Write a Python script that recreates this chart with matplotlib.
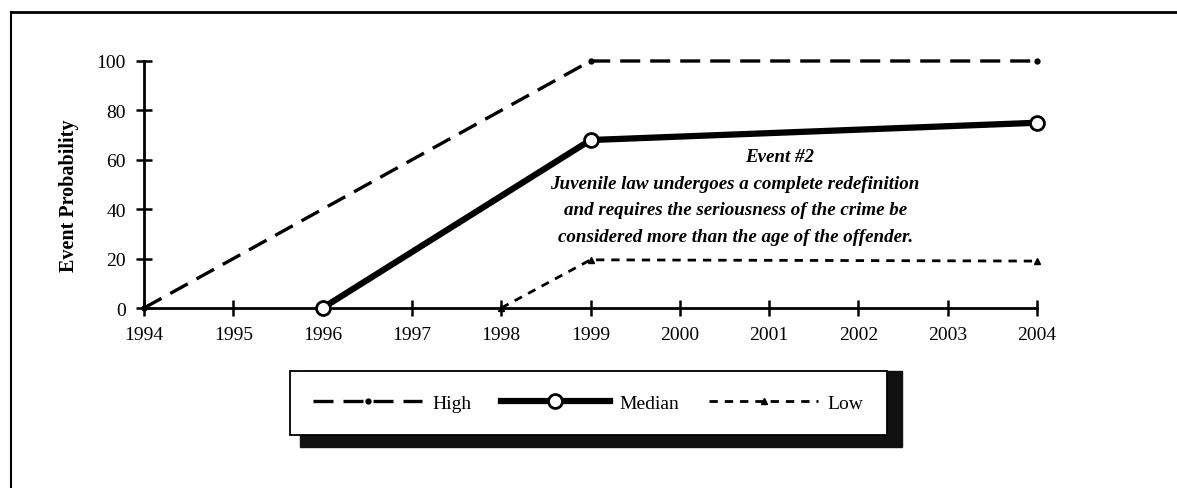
import matplotlib.pyplot as plt
from matplotlib.lines import Line2D
from matplotlib.patches import Rectangle

years = list(range(1994, 2005))

high_years = [1994, 1999, 2004]
high_vals = [0, 100, 100]

median_years = [1996, 1999, 2004]
median_vals = [0, 68, 75]

low_years = [1998, 1999, 2004]
low_vals = [0, 19.5, 19]

y_ticks = [0, 20, 40, 60, 80, 100]

event_title = "Event #2"
event_body = ("Juvenile law undergoes a complete redefinition\n"
              "and requires the seriousness of the crime be\n"
              "considered more than the age of the offender.")

W, H = 1177, 489


def fx(px):
    return px / W


def fy(py):
    return 1 - py / H


plt.rcParams["font.family"] = ["Liberation Serif", "DejaVu Serif"]

fig = plt.figure(figsize=(W / 100, H / 100), dpi=100)
ax = fig.add_axes([fx(144), fy(309), fx(1037 - 144), (309 - 62) / H])

ax.plot(high_years, high_vals, color="black", lw=2.4, dashes=(6, 3),
        marker="o", ms=3.5, label="High", clip_on=False)
ax.plot(median_years, median_vals, color="black", lw=4.5,
        marker="o", ms=10, mfc="white", mec="black", mew=2,
        label="Median", clip_on=False, zorder=3)
ax.plot(low_years, low_vals, color="black", lw=2, dashes=(3, 2.5),
        marker="^", ms=4.5, label="Low", clip_on=False)

ax.set_xlim(1994, 2004)
ax.set_ylim(0, 100)
ax.set_xticks(years)
ax.set_yticks(y_ticks)
ax.tick_params(direction="inout", length=12, width=1.8, labelsize=14, pad=7)
for side in ("top", "right"):
    ax.spines[side].set_visible(False)
for side in ("left", "bottom"):
    ax.spines[side].set_linewidth(2)
ax.set_ylabel("Event Probability", fontsize=14.5, fontweight="bold")
ax.yaxis.set_label_coords(-0.073, 0.457)

ax.text(2001.12, 61.5, event_title, ha="center", va="center", fontsize=13.7,
        fontweight="bold", style="italic")
ax.text(2000.62, 39.7, event_body, ha="center", va="center", fontsize=13.7,
        fontweight="bold", style="italic", linespacing=1.72)

# legend with a hard drop shadow
leg = fig.legend(loc="lower left", bbox_to_anchor=(fx(290), fy(436),
                                                     fx(887 - 290), (436 - 364) / H),
                 mode="expand", ncol=3, frameon=True, fancybox=False,
                 edgecolor="black", framealpha=1, fontsize=14,
                 handlelength=5.6, borderaxespad=0, borderpad=1.2,
                 columnspacing=1.6, handletextpad=0.5)
leg.get_frame().set_linewidth(1.3)
leg.set_zorder(5)
fig.add_artist(Rectangle((fx(300), fy(448)), fx(902 - 300), (448 - 372) / H,
                         transform=fig.transFigure, color="#111111", zorder=4))

# outer frame (top and left only)
fig.add_artist(Line2D([fx(11), 1], [fy(13)] * 2, transform=fig.transFigure,
                      color="black", lw=2))
fig.add_artist(Line2D([fx(11)] * 2, [0, fy(13)], transform=fig.transFigure,
                      color="black", lw=1.5))

fig.savefig("out.png", dpi=100)
